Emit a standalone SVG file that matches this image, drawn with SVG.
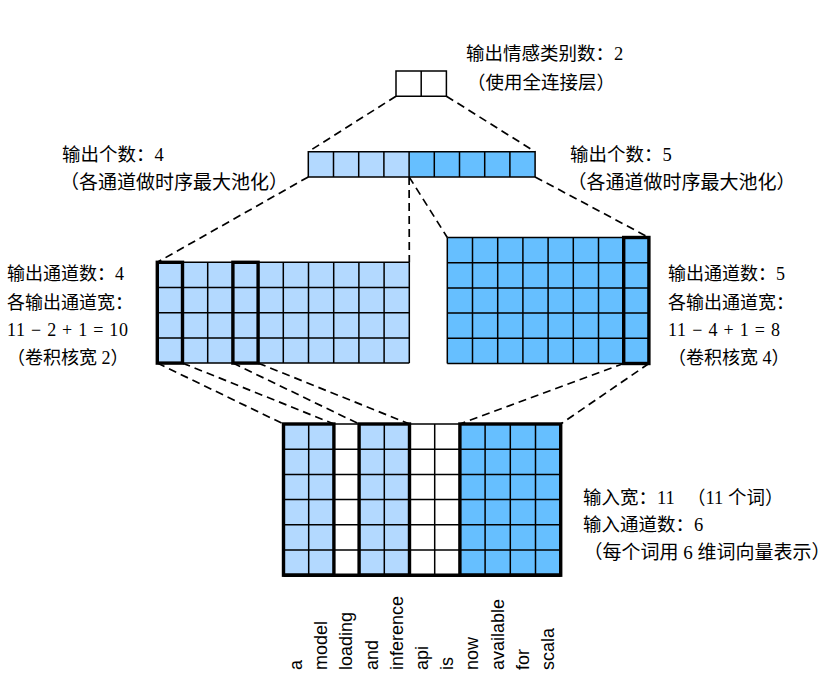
<svg xmlns="http://www.w3.org/2000/svg" width="830" height="688" viewBox="0 0 830 688">
<style>
.t{font-family:"Liberation Serif","Noto Sans CJK SC",serif;font-size:18.5px;fill:#000}
.s18{font-size:18px}
.s19{font-size:19px}
.w{font-family:"Liberation Sans",Arial,sans-serif;font-size:18px;fill:#000}
.lt{fill:#b3d9ff}
.dk{fill:#66bfff}
.wh{fill:#fff}
.g{fill:none;stroke:#000;stroke-width:1.5}
.k{fill:none;stroke:#000;stroke-width:3.4;stroke-linejoin:miter}
.d{fill:none;stroke:#000;stroke-width:1.7;stroke-dasharray:8 5}
</style>
<rect width="830" height="688" fill="#fff"/>
<g id="connectors">
<path class="d" d="M396,96.2 L308.3,151.7 M446.4,96.2 L535.1,151.7"/>
<path class="d" d="M308.3,176.9 L157.3,262.3 M409.1,176.9 L409.3,262.3 M409.1,176.9 L447.3,237.5 M535.1,176.9 L648.9,237.5"/>
<path class="d" d="M157.3,363.1 L283.5,424 M182.5,363.1 L333.9,424 M232.9,363.1 L359.1,424 M258.1,363.1 L409.5,424"/>
<path class="d" d="M623.7,363.5 L459.9,424 M648.9,363.5 L560.7,424"/>
</g>
<g id="fc_output">
<rect class="wh" x="396" y="71" width="50.4" height="25.2"/>
<path class="g" d="M396,71 H446.4 V96.2 H396 Z M421.2,71 V96.2"/>
</g>
<g id="pooled">
<rect class="lt" x="308.3" y="151.7" width="100.8" height="25.2"/>
<rect class="dk" x="409.1" y="151.7" width="126" height="25.2"/>
<path class="g" d="M308.3,151.7 H535.1 V176.9 H308.3 Z M333.5,151.7 V176.9 M358.7,151.7 V176.9 M383.9,151.7 V176.9 M409.1,151.7 V176.9 M434.3,151.7 V176.9 M459.5,151.7 V176.9 M484.7,151.7 V176.9 M509.9,151.7 V176.9"/>
</g>
<g id="conv_left">
<rect class="lt" x="157.3" y="262.3" width="252" height="100.8"/>
<path class="g" d="M157.3,262.3 H409.3 M157.3,287.5 H409.3 M157.3,312.7 H409.3 M157.3,337.9 H409.3 M157.3,363.1 H409.3 M157.3,262.3 V363.1 M182.5,262.3 V363.1 M207.7,262.3 V363.1 M232.9,262.3 V363.1 M258.1,262.3 V363.1 M283.3,262.3 V363.1 M308.5,262.3 V363.1 M333.7,262.3 V363.1 M358.9,262.3 V363.1 M384.1,262.3 V363.1 M409.3,262.3 V363.1"/>
<rect class="k" x="157.3" y="262.3" width="25.2" height="100.8"/>
<rect class="k" x="232.9" y="262.3" width="25.2" height="100.8"/>
</g>
<g id="conv_right">
<rect class="dk" x="447.3" y="237.5" width="201.6" height="126"/>
<path class="g" d="M447.3,237.5 H648.9 M447.3,262.7 H648.9 M447.3,287.9 H648.9 M447.3,313.1 H648.9 M447.3,338.3 H648.9 M447.3,363.5 H648.9 M447.3,237.5 V363.5 M472.5,237.5 V363.5 M497.7,237.5 V363.5 M522.9,237.5 V363.5 M548.1,237.5 V363.5 M573.3,237.5 V363.5 M598.5,237.5 V363.5 M623.7,237.5 V363.5 M648.9,237.5 V363.5"/>
<rect class="k" x="623.7" y="237.5" width="25.2" height="126"/>
</g>
<g id="input">
<rect class="lt" x="283.5" y="424" width="50.4" height="151.2"/>
<rect class="wh" x="333.9" y="424" width="25.2" height="151.2"/>
<rect class="lt" x="359.1" y="424" width="50.4" height="151.2"/>
<rect class="wh" x="409.5" y="424" width="50.4" height="151.2"/>
<rect class="dk" x="459.9" y="424" width="100.8" height="151.2"/>
<path class="g" d="M283.5,424 H560.7 M283.5,449.2 H560.7 M283.5,474.4 H560.7 M283.5,499.6 H560.7 M283.5,524.8 H560.7 M283.5,550 H560.7 M283.5,575.2 H560.7 M283.5,424 V575.2 M308.7,424 V575.2 M333.9,424 V575.2 M359.1,424 V575.2 M384.3,424 V575.2 M409.5,424 V575.2 M434.7,424 V575.2 M459.9,424 V575.2 M485.1,424 V575.2 M510.3,424 V575.2 M535.5,424 V575.2 M560.7,424 V575.2"/>
<path class="k" d="M283.5,575.2 H560.7"/>
<rect class="k" x="283.5" y="424" width="50.4" height="151.2"/>
<rect class="k" x="359.1" y="424" width="50.4" height="151.2"/>
<rect class="k" x="459.9" y="424" width="100.8" height="151.2"/>
</g>
<g id="labels">
<text class="t" x="466" y="60">输出情感类别数：2</text>
<text class="t" x="467" y="89">（使用全连接层）</text>
<text class="t" x="62" y="161">输出个数：4</text>
<text class="t s19" x="60" y="189">（各通道做时序最大池化）</text>
<text class="t" x="570" y="161">输出个数：5</text>
<text class="t s19" x="567.5" y="189">（各通道做时序最大池化）</text>
<text class="t s18" x="7" y="280">输出通道数：4</text>
<text class="t s18" x="7" y="309">各输出通道宽：</text>
<text class="t s18" x="7" y="336" textLength="121" lengthAdjust="spacing">11 − 2 + 1 = 10</text>
<text class="t s18" x="7" y="364">（卷积核宽 2）</text>
<text class="t s18" x="668" y="280">输出通道数：5</text>
<text class="t s18" x="668" y="309">各输出通道宽：</text>
<text class="t s18" x="668" y="336" textLength="112" lengthAdjust="spacing">11 − 4 + 1 = 8</text>
<text class="t s18" x="668" y="364">（卷积核宽 4）</text>
<text class="t" x="583" y="504">输入宽：11<tspan x="687">（11 个词）</tspan></text>
<text class="t" x="583" y="531">输入通道数：6</text>
<text class="t s19" x="583.4" y="559">（每个词用 6 维词向量表示）</text>
</g>
<g id="words">
<text class="w" transform="translate(302,670) rotate(-90)">a</text>
<text class="w" transform="translate(327.2,670) rotate(-90)">model</text>
<text class="w" transform="translate(352.4,670) rotate(-90)">loading</text>
<text class="w" transform="translate(377.6,670) rotate(-90)">and</text>
<text class="w" transform="translate(402.8,670) rotate(-90)">inference</text>
<text class="w" transform="translate(428,670) rotate(-90)">api</text>
<text class="w" transform="translate(453.2,670) rotate(-90)">is</text>
<text class="w" transform="translate(478.4,670) rotate(-90)">now</text>
<text class="w" transform="translate(503.6,670) rotate(-90)">available</text>
<text class="w" transform="translate(528.8,670) rotate(-90)">for</text>
<text class="w" transform="translate(554,670) rotate(-90)">scala</text>
</g>
</svg>
